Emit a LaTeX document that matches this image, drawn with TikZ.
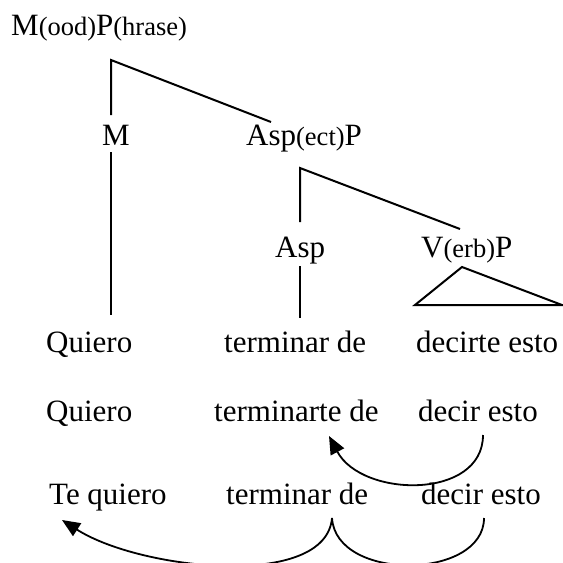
\documentclass[tikz,border=0pt]{standalone}
\usepackage{fontspec}
\setmainfont{Liberation Serif}
\usetikzlibrary{arrows.meta}
\newcommand\smallpart[1]{{\fontsize{26.5}{30}\selectfont #1}}
\tikzset{
  lbl/.style={anchor=base west, inner sep=0pt, font=\fontsize{31}{36}\selectfont},
  branch/.style={line width=2pt, line cap=butt, line join=miter},
  move/.style={line width=1.8pt, -{Triangle[length=18pt,width=15pt]}},
  brace/.style={line width=1.8pt}
}
\begin{document}
\begin{tikzpicture}[x=1pt,y=-1pt]
\useasboundingbox (0,0) rectangle (563,563);
% labels
\node[lbl] (mp) at (11,35) {M\smallpart{(ood)}P\smallpart{(hrase)}};
\node[lbl] (m) at (102,145) {M};
\node[lbl] (aspp) at (246,145) {Asp\smallpart{(ect)}P};
\node[lbl] (asp) at (275,257) {Asp};
\node[lbl] (vp) at (421,257) {V\smallpart{(erb)}P};
% row 1
\node[lbl] (q1) at (46,352) {Quiero};
\node[lbl] (t1) at (224,352) {terminar de};
\node[lbl] (d1) at (416,352) {decirte esto};
% row 2
\node[lbl] (q2) at (46,421) {Quiero};
\node[lbl] (t2) at (214,421) {terminarte de};
\node[lbl] (d2) at (418,421) {decir esto};
% row 3
\node[lbl] (q3) at (49,504) {Te quiero};
\node[lbl] (t3) at (226,504) {terminar de};
\node[lbl] (d3) at (421,504) {decir esto};
% tree coordinates
\coordinate (mpv) at (111,60);
\coordinate (mup) at (111,115);
\coordinate (asppup) at (271,122);
\coordinate (mdown) at (111,152);
\coordinate (q1up) at (111,315);
\coordinate (asppv) at (300,168);
\coordinate (aspup) at (300,222);
\coordinate (vpup) at (460,229);
\coordinate (aspdown) at (300,266);
\coordinate (t1up) at (300,318);
\coordinate (vpv) at (462,267);
\coordinate (vpl) at (415,305);
\coordinate (vpr) at (562,305);
\draw[branch] (mup) -- (mpv) -- (asppup);
\draw[branch] (mdown) -- (q1up);
\draw[branch] (aspup) -- (asppv) -- (vpup);
\draw[branch] (aspdown) -- (t1up);
\draw[branch] (vpl) -- (vpv) -- (vpr) -- cycle;
% movement arrows
\coordinate (d2s) at (483,435);
\coordinate (t2e) at (329,436);
\draw[move] (d2s) .. controls (483,500) and (362,498) .. (t2e);
\coordinate (t3s) at (332,518);
\coordinate (q3e) at (62,520);
\coordinate (d3s) at (484,518);
\draw[move] (t3s) .. controls (326,590) and (140,570) .. (q3e);
\draw[brace] (t3s) .. controls (336,582) and (484,580) .. (d3s);
\end{tikzpicture}
\end{document}
